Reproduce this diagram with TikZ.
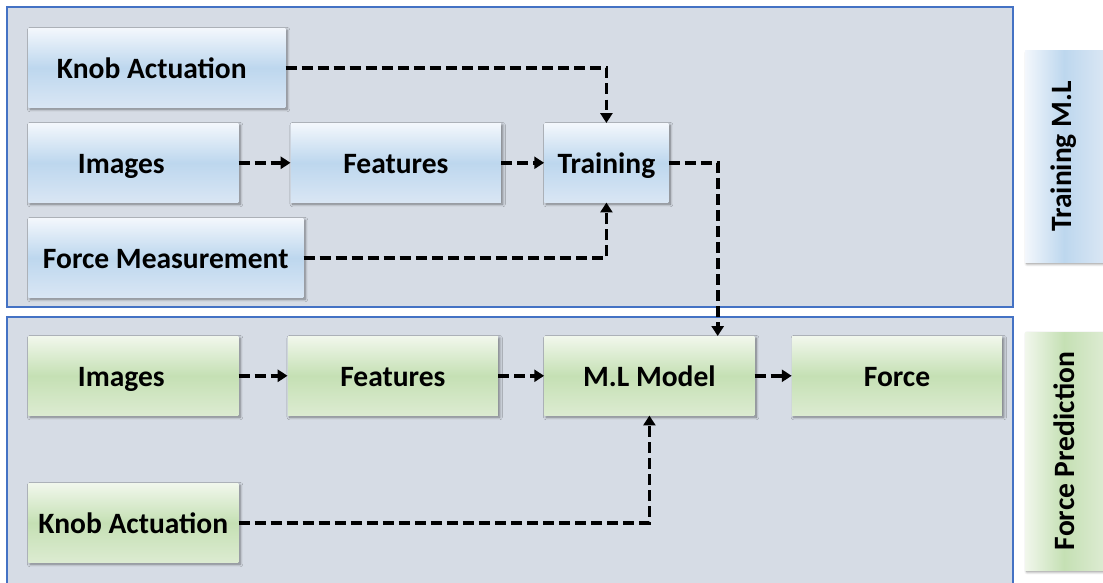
\documentclass[tikz,border=0pt]{standalone}
\usepackage{fontspec}
\setmainfont{Carlito}
\usetikzlibrary{positioning, arrows.meta, shadows.blur}

\definecolor{panelfill}{HTML}{D6DCE5}
\definecolor{panelline}{HTML}{4472C4}
\definecolor{blueT}{HTML}{F3F7FC}
\definecolor{blueM}{HTML}{BDD7EE}
\definecolor{blueB}{HTML}{D9E6F4}
\definecolor{greenT}{HTML}{F1F7EC}
\definecolor{greenM}{HTML}{C5E0B4}
\definecolor{greenB}{HTML}{DCEBD1}

\tikzset{
    panel/.style={fill=panelfill, draw=panelline, line width=0.8pt}, % the two stage frames
    box/.style={inner sep=0pt, minimum height=1.975cm,
        font=\fontsize{21}{24}\selectfont\bfseries,
        blur shadow={shadow xshift=1.3pt, shadow yshift=-1.3pt,
            shadow blur steps=6, shadow opacity=45}},
    stepline/.style={text height=20pt, text depth=4.5pt}, % same baseline in every box
    bluebox/.style={box, stepline, top color=blueT, bottom color=blueB, middle color=blueM},
    greenbox/.style={box, stepline, top color=greenT, bottom color=greenB, middle color=greenM},
    sidebox/.style={box, minimum width=1.95cm},
    flow/.style={->, line width=2.7pt, dash pattern=on 7.8pt off 3.6pt},
    >={Triangle[length=7pt, width=8.5pt]},
}

\begin{document}
\begin{tikzpicture}
    \useasboundingbox (0,0) rectangle (27.575,-14.55);

    % stage frames
    \draw[panel] (0.175,-0.175) rectangle (25.325,-7.675);
    \draw[panel] (0.175,-7.925) rectangle (25.325,-14.8);

    % training stage
    \node[bluebox, minimum width=6.425cm, anchor=north west] (knobA) at (0.7,-0.7) {Knob Actuation\hspace*{0.25cm}};
    \node[bluebox, minimum width=5.25cm, anchor=north west] (imgA) at (0.7,-3.075) {Images\hspace*{0.6cm}};
    \node[bluebox, minimum width=5.25cm] (featA) [right=1.3cm of imgA] {Features};
    \node[bluebox, minimum width=3.1cm] (train) [right=1.075cm of featA] {Training};
    \node[bluebox, minimum width=6.875cm, anchor=north west] (forceM) at (0.7,-5.45) {Force Measurement};

    % prediction stage
    \node[greenbox, minimum width=5.25cm, anchor=north west] (imgB) at (0.7,-8.4) {Images\hspace*{0.6cm}};
    \node[greenbox, minimum width=5.25cm] (featB) [right=1.225cm of imgB] {Features};
    \node[greenbox, minimum width=5.25cm] (mlm) [right=1.15cm of featB] {M.L Model};
    \node[greenbox, minimum width=5.25cm] (force) [right=0.925cm of mlm] {Force};
    \node[greenbox, minimum width=5.25cm, anchor=north west] (knobB) at (0.7,-12.075) {Knob Actuation};

    % stage labels
    \node[sidebox, minimum height=5.275cm, left color=blueT, right color=blueB, middle color=blueM]
        (trainlbl) at (26.6,-3.9125) {\rotatebox{90}{Training M.L}};
    \node[sidebox, minimum height=5.95cm, left color=greenT, right color=greenB, middle color=greenM]
        (predlbl) at (26.6,-11.275) {\rotatebox{90}{Force Prediction}};

    % connectors
    \draw[flow] (knobA.east) -| (train.north);
    \draw[flow] (imgA) -- (featA);
    \draw[flow] (featA) -- (train);
    \draw[flow] (forceM.east) -| (train.south);
    \draw[flow] (train.east) -| ([xshift=-0.925cm]mlm.north east);

    \draw[flow] (imgB) -- (featB);
    \draw[flow] (featB) -- (mlm);
    \draw[flow] (mlm) -- (force);
    \draw[flow] (knobB.east) -| (mlm.south);
\end{tikzpicture}
\end{document}
